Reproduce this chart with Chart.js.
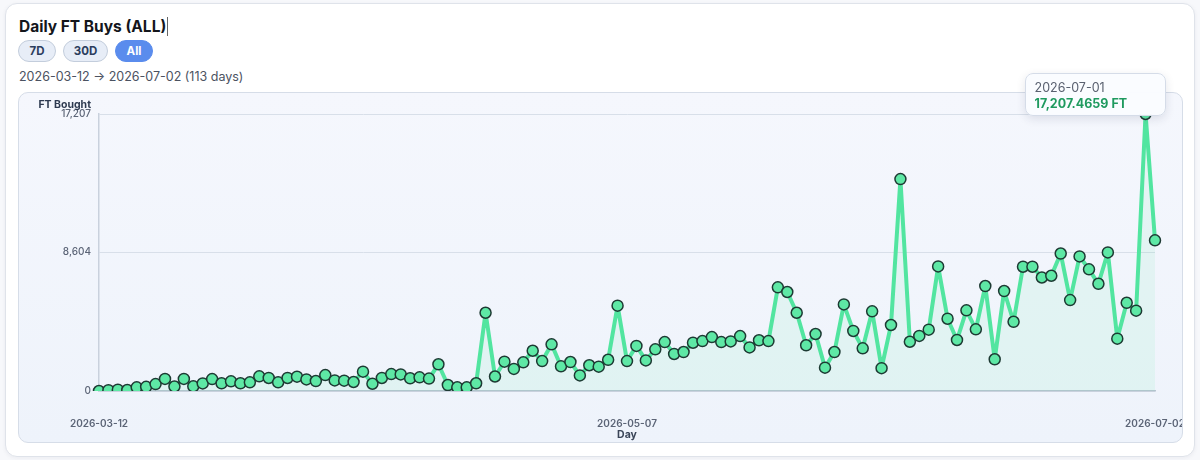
<!DOCTYPE html>
<html>
<head>
<meta charset="utf-8">
<script src="https://cdn.jsdelivr.net/npm/chart.js@4.4.1/dist/chart.umd.min.js"></script>
<style>
  html, body { margin: 0; padding: 0; background: #f7f8fb; font-family: Inter, "Noto Sans", sans-serif; }
  .card {
    position: absolute; left: 5px; top: 3px; width: 1188px; height: 452px;
    background: #fff; border: 1px solid #dfe3ea; border-radius: 12px;
    box-shadow: 0 1px 4px rgba(30, 40, 60, 0.06);
  }
  .title {
    position: absolute; left: 13px; top: 13px; font-size: 15.5px; font-weight: 700; color: #14161c;
  }
  .caret { display: inline-block; width: 1px; height: 19px; background: #666; vertical-align: -4px; margin-left: 1px; }
  .btns { position: absolute; left: 12px; top: 36px; display: flex; gap: 7px; }
  .btn {
    height: 20px; line-height: 20px; padding: 0; border-radius: 11px; text-align: center;
    font-size: 11.5px; font-weight: 700; color: #2c3d5e; background: #e7edf7; border: 1px solid #c3cddc;
  }
  .btn.on { background: #5a8ced; border-color: #5a8ced; color: #fff; }
  .range { position: absolute; left: 13px; top: 65px; font-size: 12.5px; color: #4b5261; }
  .panel {
    position: absolute; left: 12px; top: 88px; width: 1163px; height: 349px;
    border: 1px solid #d6dde8; border-radius: 10px; overflow: hidden;
    background: linear-gradient(180deg, #f5f7fd 0%, #eef3fb 100%);
  }
  .panel canvas { position: absolute; left: 0; top: 0; }
  #tip {
    position: absolute; width: 141px; height: 43px; box-sizing: border-box;
    background: rgba(250, 252, 255, 0.97); border: 1px solid #d5dce8; border-radius: 8px;
    box-shadow: 0 3px 10px rgba(30, 45, 70, 0.12); padding: 6px 9px; opacity: 0;
    font-size: 12.5px; line-height: 16px;
  }
  #tip .d { color: #5a6170; }
  #tip .v { color: #1f9a5f; font-weight: 700; }
</style>
</head>
<body>
<div class="card">
  <div class="title">Daily FT Buys (ALL)<span class="caret"></span></div>
  <div class="btns">
    <div class="btn" style="width:36px">7D</div>
    <div class="btn" style="width:43px">30D</div>
    <div class="btn on" style="width:36px">All</div>
  </div>
  <div class="range">2026-03-12 → 2026-07-02 (113 days)</div>
  <div class="panel">
    <div style="position:absolute;left:0;top:0;width:1200px;height:349px">
      <canvas id="chart"></canvas>
    </div>
  </div>
</div>
<div id="tip"><div class="d"></div><div class="v"></div></div>

<script>
// days covered by the chart
const startDay = '2026-03-12';
const dayCount = 113;
const xTickDays = ['2026-03-12', '2026-05-07', '2026-07-02'];
const yTicks = [0, 8604, 17207];
const highlightDay = '2026-07-01';

// FT bought per day
const ftBought = [
  0, 50, 80, 60, 230, 260, 430, 750, 280, 750,
  290, 470, 740, 480, 600, 480, 540, 910, 810, 540,
  810, 890, 720, 620, 990, 660, 640, 560, 1200, 450,
  810, 1050, 1030, 790, 850, 770, 1660, 370, 230, 230,
  480, 4860, 900, 1820, 1370, 1780, 2500, 1860, 2900, 1530,
  1800, 970, 1600, 1510, 1940, 5300, 1860, 2800, 1900, 2590,
  3040, 2300, 2420, 3000, 3100, 3350, 3040, 3080, 3410, 2710,
  3150, 3100, 6440, 6150, 4860, 2840, 3540, 1450, 2420, 5380,
  3730, 2650, 4950, 1420, 4100, 13165, 3060, 3420, 3810, 7740,
  4490, 3170, 5010, 3830, 6520, 1970, 6210, 4300, 7720, 7720,
  7050, 7160, 8540, 5650, 8360, 7560, 6660, 8610, 3250, 5480,
  4990, 17207.4659, 9360
];

const days = [];
const d0 = new Date(startDay + 'T00:00:00Z');
for (let i = 0; i < dayCount; i++) {
  const d = new Date(d0.getTime() + i * 86400000);
  days.push(d.toISOString().slice(0, 10));
}

const yMax = Math.max(...ftBought);
const fmt = new Intl.NumberFormat('en-US');

const axisTitleTop = {
  id: 'axisTitleTop',
  afterDraw(chart) {
    const { ctx, chartArea } = chart;
    ctx.save();
    ctx.font = '700 10.5px Inter';
    ctx.fillStyle = '#2e3a50';
    ctx.textAlign = 'right';
    ctx.textBaseline = 'middle';
    ctx.fillText('FT Bought', chartArea.left - 8, chartArea.top - 9);
    ctx.restore();
  }
};

function externalTip(context) {
  const tip = context.tooltip;
  const el = document.getElementById('tip');
  if (tip.opacity === 0 || !tip.dataPoints) { el.style.opacity = 0; return; }
  const p = tip.dataPoints[0];
  el.querySelector('.d').textContent = p.label;
  el.querySelector('.v').textContent = new Intl.NumberFormat('en-US', { maximumFractionDigits: 4 }).format(p.raw) + ' FT';
  const r = context.chart.canvas.getBoundingClientRect();
  el.style.left = (r.left + window.scrollX + p.element.x - 121) + 'px';
  el.style.top = (r.top + window.scrollY + p.element.y - 41) + 'px';
  el.style.opacity = 1;
}

const ctx = document.getElementById('chart').getContext('2d');
const chart = new Chart(ctx, {
  type: 'line',
  data: {
    labels: days,
    datasets: [{
      label: 'FT Bought',
      data: ftBought,
      borderColor: '#52e5a0',
      borderWidth: 4,
      borderJoinStyle: 'round',
      tension: 0,
      fill: 'origin',
      backgroundColor: 'rgba(82, 229, 160, 0.09)',
      pointRadius: 5.5,
      pointHoverRadius: 5.5,
      pointBackgroundColor: '#5ee8a5',
      pointBorderColor: '#1d3a33',
      pointBorderWidth: 1.5
    }]
  },
  options: {
    responsive: true,
    maintainAspectRatio: false,
    animation: false,
    layout: { padding: { top: 21, left: 0, right: 64, bottom: 0 } },
    plugins: {
      legend: { display: false },
      tooltip: { enabled: false, external: externalTip }
    },
    scales: {
      x: {
        grid: { display: false },
        border: { display: true, color: '#b9c3d1', width: 1.5 },
        afterFit(s) { s.height = 51; },
        ticks: {
          autoSkip: false, maxRotation: 0, minRotation: 0, padding: 19,
          color: '#5b6476', font: { family: 'Inter', size: 10, weight: '600' },
          callback(v, i) { const l = this.getLabelForValue(v); return xTickDays.includes(l) ? l : ''; }
        },
        title: {
          display: true, text: 'Day', color: '#3a4558',
          font: { family: 'Inter', size: 10.5, weight: '700' },
          padding: { top: 0, bottom: 1 }
        }
      },
      y: {
        min: 0, max: yMax,
        afterFit(s) { s.width = 80; },
        afterBuildTicks(s) { s.ticks = yTicks.map(v => ({ value: v })); },
        grid: { color: '#d8dfe9', drawTicks: false },
        border: { display: true, color: '#c9d1dd', width: 1.5 },
        ticks: {
          padding: 8, color: '#5b6476', font: { family: 'Inter', size: 10, weight: '500' },
          callback: v => fmt.format(v)
        }
      }
    }
  },
  plugins: [axisTitleTop]
});

const hi = days.indexOf(highlightDay);
chart.tooltip.setActiveElements([{ datasetIndex: 0, index: hi }], { x: 0, y: 0 });
chart.update();
</script>
</body>
</html>
